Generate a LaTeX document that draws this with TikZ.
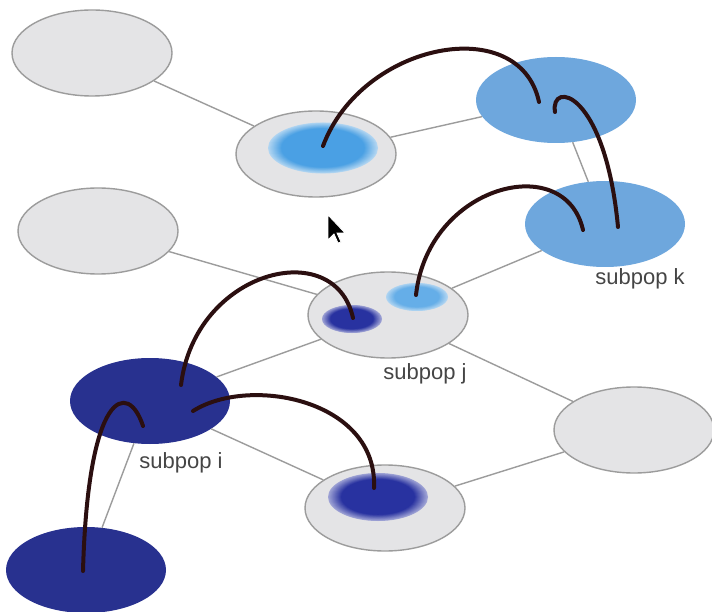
\documentclass[tikz,border=0pt]{standalone}
\usepackage{fontspec}
\setmainfont{Liberation Sans}
\usetikzlibrary{shapes.geometric}
\definecolor{popgray}{HTML}{E4E4E6}
\definecolor{popborder}{HTML}{9C9C9C}
\definecolor{lightblue}{HTML}{6EA7DD}
\definecolor{darkblue}{HTML}{28318F}
\definecolor{arccol}{HTML}{2B0F10}
\definecolor{labelcol}{HTML}{454545}
\definecolor{lbout}{RGB}{178,214,242}
\definecolor{lbin}{RGB}{74,160,228}
\definecolor{dbout}{RGB}{160,164,214}
\definecolor{dbin}{RGB}{40,50,160}
\tikzset{
  pop/.style={ellipse, minimum width=160pt, minimum height=86pt, inner sep=0pt},
  graypop/.style={pop, fill=popgray, draw=popborder, line width=1.4pt},
  lbpop/.style={pop, fill=lightblue},
  dbpop/.style={pop, fill=darkblue},
  edge/.style={draw=popborder, line width=1.4pt},
  migr/.style={draw=arccol, line width=4pt, line cap=round},
  lbl/.style={text=labelcol, font=\fontsize{22}{24}\selectfont, inner sep=0pt}
}
% gradient blob: x, y, rx, ry, outer colour, inner colour, inner fraction
\newcommand{\gradblob}[7]{%
  \foreach \kk in {0,...,14}{%
    \pgfmathsetmacro{\ff}{1-(1-#7)*\kk/14}%
    \pgfmathsetmacro{\pp}{100*\kk/14}%
    \fill[color=#6!\pp!#5] (#1,#2) ellipse [x radius=#3*\ff, y radius=#4*\ff];
  }}
\begin{document}
\begin{tikzpicture}[x=1pt,y=-1pt]
\useasboundingbox (0,0) rectangle (712,612);
\clip (0,0) rectangle (712,612);
\fill[white] (0,0) rectangle (712,612);

% populations
\node[graypop] (tl) at (92,53) {};
\node[graypop] (tc) at (316,154) {};
\node[lbpop]   (tr) at (556,100) {};
\node[lbpop]   (k)  at (605,224) {};
\node[graypop] (ml) at (98,231) {};
\node[graypop] (j)  at (388,315) {};
\node[dbpop]   (i)  at (150,401) {};
\node[graypop] (rg) at (634,430) {};
\node[graypop] (bc) at (385,508) {};
\node[dbpop]   (bl) at (86,570) {};

% network edges
\path[edge] (tl) -- (tc);
\path[edge] (tc) -- (tr);
\path[edge] (tr) -- (k);
\path[edge] (ml) -- (j);
\path[edge] (k) -- (j);
\path[edge] (i) -- (j);
\path[edge] (j) -- (rg);
\path[edge] (i) -- (bc);
\path[edge] (bc) -- (rg);
\path[edge] (i) -- (bl);

% gradient blobs
\gradblob{323}{148}{55}{25.5}{lbout}{lbin}{0.76}
\gradblob{352}{319}{30}{14}{dbout}{dbin}{0.72}
\gradblob{417}{297}{31}{14}{lbout}{lbin!85!white}{0.72}
\gradblob{378}{497}{50}{24}{dbout}{dbin}{0.74}

% migration arcs
\coordinate (s1) at (323,146); \coordinate (e1) at (539,102);
\coordinate (s2) at (618,227); \coordinate (e2) at (555,112);
\coordinate (s3) at (416,295); \coordinate (e3) at (583,230);
\coordinate (s4) at (181,385); \coordinate (e4) at (353,318);
\coordinate (s5) at (193,411); \coordinate (e5) at (374,488);
\coordinate (s6) at (83,571);  \coordinate (e6) at (143,426);

\path[migr] (s1) .. controls (362,42) and (520,12) .. (e1);
\path[migr] (s2) .. controls (605,90) and (550,80) .. (e2);
\path[migr] (s3) .. controls (428,185) and (565,150) .. (e3);
\path[migr] (s4) .. controls (195,270) and (335,235) .. (e4);
\path[migr] (s5) .. controls (250,375) and (378,400) .. (e5);
\path[migr] (s6) .. controls (88,390) and (128,380) .. (e6);

% labels
\node[lbl] (lk) at (640,279) {subpop k};
\node[lbl] (lj) at (425,374) {subpop j};
\node[lbl] (li) at (181,463) {subpop i};

% mouse cursor
\filldraw[fill=black, draw=white, line width=0.8pt]
  (328,215) -- (328,240) -- (334,234) -- (338,243) -- (341,242) -- (337,233) -- (345,233) -- cycle;
\end{tikzpicture}
\end{document}
